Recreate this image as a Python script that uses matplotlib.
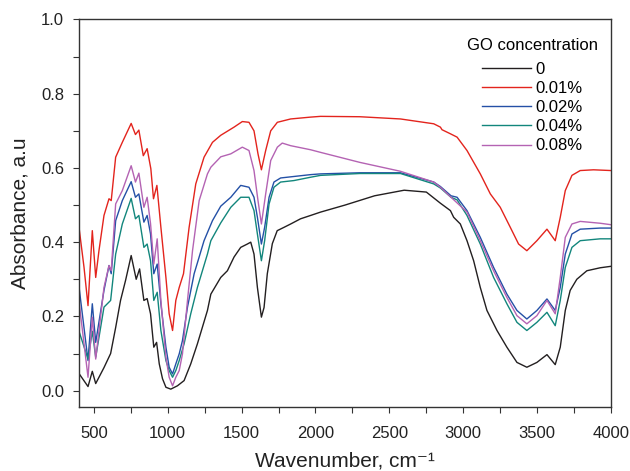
import matplotlib
matplotlib.use("Agg")
import matplotlib.pyplot as plt
from matplotlib.ticker import MultipleLocator

plt.rcParams['font.family'] = ['Liberation Sans', 'DejaVu Sans']

# GO concentration 0
wn_0 = [400, 461, 490, 513, 569, 614, 648, 681, 715, 753, 787, 810, 839, 861, 884, 906,
        925, 943, 965, 988, 1021, 1066, 1111, 1156, 1201, 1269, 1292, 1359, 1404, 1449,
        1494, 1539, 1562, 1584, 1607, 1634, 1652, 1674, 1708, 1741, 1787, 1832, 1899,
        1967, 2034, 2200, 2400, 2600, 2750, 2845, 2913, 2935, 2980, 3025, 3070, 3115,
        3160, 3228, 3295, 3363, 3430, 3498, 3566, 3622, 3656, 3690, 3723, 3768, 3836,
        3926, 4000]
ab_0 = [0.046, 0.011, 0.052, 0.019, 0.062, 0.10, 0.17, 0.243, 0.297, 0.364, 0.30, 0.328,
        0.243, 0.248, 0.207, 0.117, 0.13, 0.072, 0.032, 0.009, 0.004, 0.013, 0.027, 0.072,
        0.126, 0.216, 0.26, 0.305, 0.323, 0.36, 0.386, 0.395, 0.40, 0.368, 0.278, 0.198,
        0.224, 0.315, 0.396, 0.431, 0.44, 0.449, 0.463, 0.472, 0.481, 0.50, 0.525, 0.54,
        0.535, 0.505, 0.485, 0.467, 0.449, 0.404, 0.35, 0.278, 0.216, 0.162, 0.117, 0.076,
        0.063, 0.076, 0.097, 0.07, 0.117, 0.216, 0.27, 0.30, 0.323, 0.331, 0.335]

# 0.01 %
wn_1 = [400, 434, 461, 490, 513, 535, 569, 603, 618, 648, 693, 753, 782, 805, 835, 861,
        886, 904, 927, 954, 988, 1010, 1033, 1055, 1078, 1107, 1145, 1190, 1246, 1303,
        1359, 1449, 1505, 1550, 1584, 1611, 1634, 1663, 1697, 1742, 1832, 1967, 2034,
        2300, 2575, 2800, 2845, 2856, 2913, 2958, 3025, 3115, 3183, 3250, 3318, 3374,
        3430, 3498, 3566, 3622, 3656, 3690, 3735, 3791, 3881, 4000]
ab_1 = [0.44, 0.332, 0.229, 0.431, 0.305, 0.377, 0.472, 0.517, 0.512, 0.629, 0.669, 0.72,
        0.69, 0.702, 0.633, 0.652, 0.598, 0.517, 0.553, 0.44, 0.305, 0.207, 0.162, 0.243,
        0.278, 0.315, 0.44, 0.557, 0.629, 0.669, 0.688, 0.71, 0.725, 0.723, 0.70, 0.638,
        0.595, 0.647, 0.70, 0.723, 0.732, 0.737, 0.739, 0.738, 0.732, 0.719, 0.71, 0.703,
        0.692, 0.683, 0.647, 0.584, 0.53, 0.494, 0.44, 0.395, 0.377, 0.404, 0.435, 0.404,
        0.467, 0.539, 0.58, 0.593, 0.595, 0.593]

# 0.02 %
wn_2 = [400, 461, 490, 513, 569, 603, 618, 648, 693, 753, 782, 805, 839, 861, 884, 906,
        929, 954, 988, 1010, 1033, 1055, 1078, 1100, 1134, 1179, 1246, 1303, 1359, 1427,
        1494, 1550, 1584, 1607, 1634, 1656, 1686, 1719, 1764, 1854, 1967, 2034, 2300,
        2575, 2800, 2845, 2917, 2958, 3025, 3115, 3205, 3295, 3363, 3430, 3498, 3566,
        3622, 3656, 3690, 3735, 3791, 3926, 4000]
ab_2 = [0.28, 0.081, 0.234, 0.13, 0.27, 0.337, 0.315, 0.458, 0.512, 0.563, 0.521, 0.53,
        0.454, 0.472, 0.422, 0.315, 0.341, 0.234, 0.117, 0.063, 0.045, 0.072, 0.099, 0.135,
        0.225, 0.315, 0.404, 0.458, 0.497, 0.521, 0.553, 0.548, 0.521, 0.467, 0.395, 0.44,
        0.521, 0.562, 0.573, 0.577, 0.582, 0.584, 0.587, 0.587, 0.562, 0.55, 0.525, 0.521,
        0.485, 0.413, 0.332, 0.26, 0.216, 0.193, 0.216, 0.247, 0.216, 0.278, 0.368, 0.422,
        0.435, 0.438, 0.438]

# 0.04 %
wn_4 = [400, 461, 490, 513, 569, 614, 648, 693, 753, 782, 805, 839, 861, 884, 906, 929,
        954, 988, 1010, 1033, 1055, 1078, 1111, 1156, 1201, 1269, 1292, 1359, 1427, 1494,
        1550, 1584, 1607, 1634, 1656, 1686, 1719, 1764, 1854, 1967, 2034, 2300, 2575,
        2800, 2845, 2917, 2958, 3025, 3115, 3205, 3295, 3363, 3430, 3498, 3566, 3622,
        3656, 3690, 3735, 3791, 3926, 4000]
ab_4 = [0.16, 0.085, 0.16, 0.09, 0.225, 0.243, 0.368, 0.449, 0.518, 0.463, 0.472, 0.386,
        0.395, 0.35, 0.243, 0.265, 0.162, 0.081, 0.054, 0.036, 0.054, 0.081, 0.126, 0.207,
        0.278, 0.368, 0.404, 0.452, 0.494, 0.521, 0.521, 0.485, 0.422, 0.35, 0.404, 0.503,
        0.548, 0.562, 0.566, 0.575, 0.58, 0.585, 0.585, 0.557, 0.546, 0.521, 0.514, 0.472,
        0.395, 0.305, 0.234, 0.184, 0.162, 0.184, 0.211, 0.175, 0.243, 0.332, 0.386, 0.404,
        0.409, 0.409]

# 0.08 %
wn_8 = [400, 461, 490, 513, 569, 603, 618, 648, 693, 753, 782, 805, 839, 861, 884, 906,
        929, 954, 988, 1010, 1033, 1055, 1078, 1100, 1134, 1168, 1213, 1269, 1292, 1359,
        1427, 1505, 1550, 1584, 1611, 1634, 1663, 1697, 1742, 1775, 1832, 1967, 2034,
        2300, 2575, 2800, 2845, 2917, 3025, 3115, 3205, 3295, 3363, 3430, 3498, 3566,
        3622, 3656, 3690, 3735, 3791, 3926, 4000]
ab_8 = [0.24, 0.036, 0.198, 0.085, 0.278, 0.337, 0.323, 0.503, 0.539, 0.606, 0.562, 0.586,
        0.494, 0.521, 0.45, 0.341, 0.409, 0.243, 0.09, 0.036, 0.013, 0.036, 0.054, 0.099,
        0.243, 0.377, 0.512, 0.584, 0.602, 0.63, 0.638, 0.656, 0.647, 0.593, 0.512, 0.449,
        0.53, 0.62, 0.656, 0.667, 0.66, 0.649, 0.642, 0.615, 0.591, 0.562, 0.548, 0.521,
        0.481, 0.404, 0.323, 0.251, 0.202, 0.18, 0.202, 0.243, 0.207, 0.305, 0.413, 0.449,
        0.456, 0.451, 0.447]

labels = ["0", "0.01%", "0.02%", "0.04%", "0.08%"]
colors = ["#231f20", "#e3241d", "#2450a6", "#12867c", "#b463b3"]
series = [(wn_0, ab_0), (wn_1, ab_1), (wn_2, ab_2), (wn_4, ab_4), (wn_8, ab_8)]

fig = plt.figure(figsize=(6.3, 4.71), dpi=100)
ax = fig.add_axes([0.1254, 0.1352, 0.8446, 0.8234])

for (x, y), lab, c in zip(series, labels, colors):
    ax.plot(x, y, color=c, lw=1.0, label=lab)

ax.set_xlim(400, 4000)
ax.set_ylim(-0.045, 1.0)
ax.xaxis.set_major_locator(MultipleLocator(500))
ax.xaxis.set_minor_locator(MultipleLocator(250))
ax.yaxis.set_major_locator(MultipleLocator(0.2))
ax.yaxis.set_minor_locator(MultipleLocator(0.1))
ax.yaxis.set_major_formatter(plt.FuncFormatter(lambda v, p: "%.1f" % v))
ax.tick_params(which="both", direction="out", length=4.3, width=0.8, colors="#333333",
               labelsize=12, labelcolor="#222222")
ax.tick_params(axis="x", pad=9)
ax.tick_params(axis="y", pad=6.5)
for s in ax.spines.values():
    s.set_color("#333333")
    s.set_linewidth(1.0)

ax.set_xlabel("Wavenumber, cm\u207b\u00b9", fontsize=15, labelpad=8, color="#222222")
ax.set_ylabel("Absorbance, a.u", fontsize=15, labelpad=8, color="#222222")

leg = ax.legend(title="GO concentration", loc="upper right", frameon=False,
                fontsize=12, title_fontsize=12, handlelength=2.9, handletextpad=0.3,
                labelspacing=0.25, bbox_to_anchor=(1.004, 0.99))
leg._legend_box.sep = 6

fig.savefig("out.png", dpi=100)
